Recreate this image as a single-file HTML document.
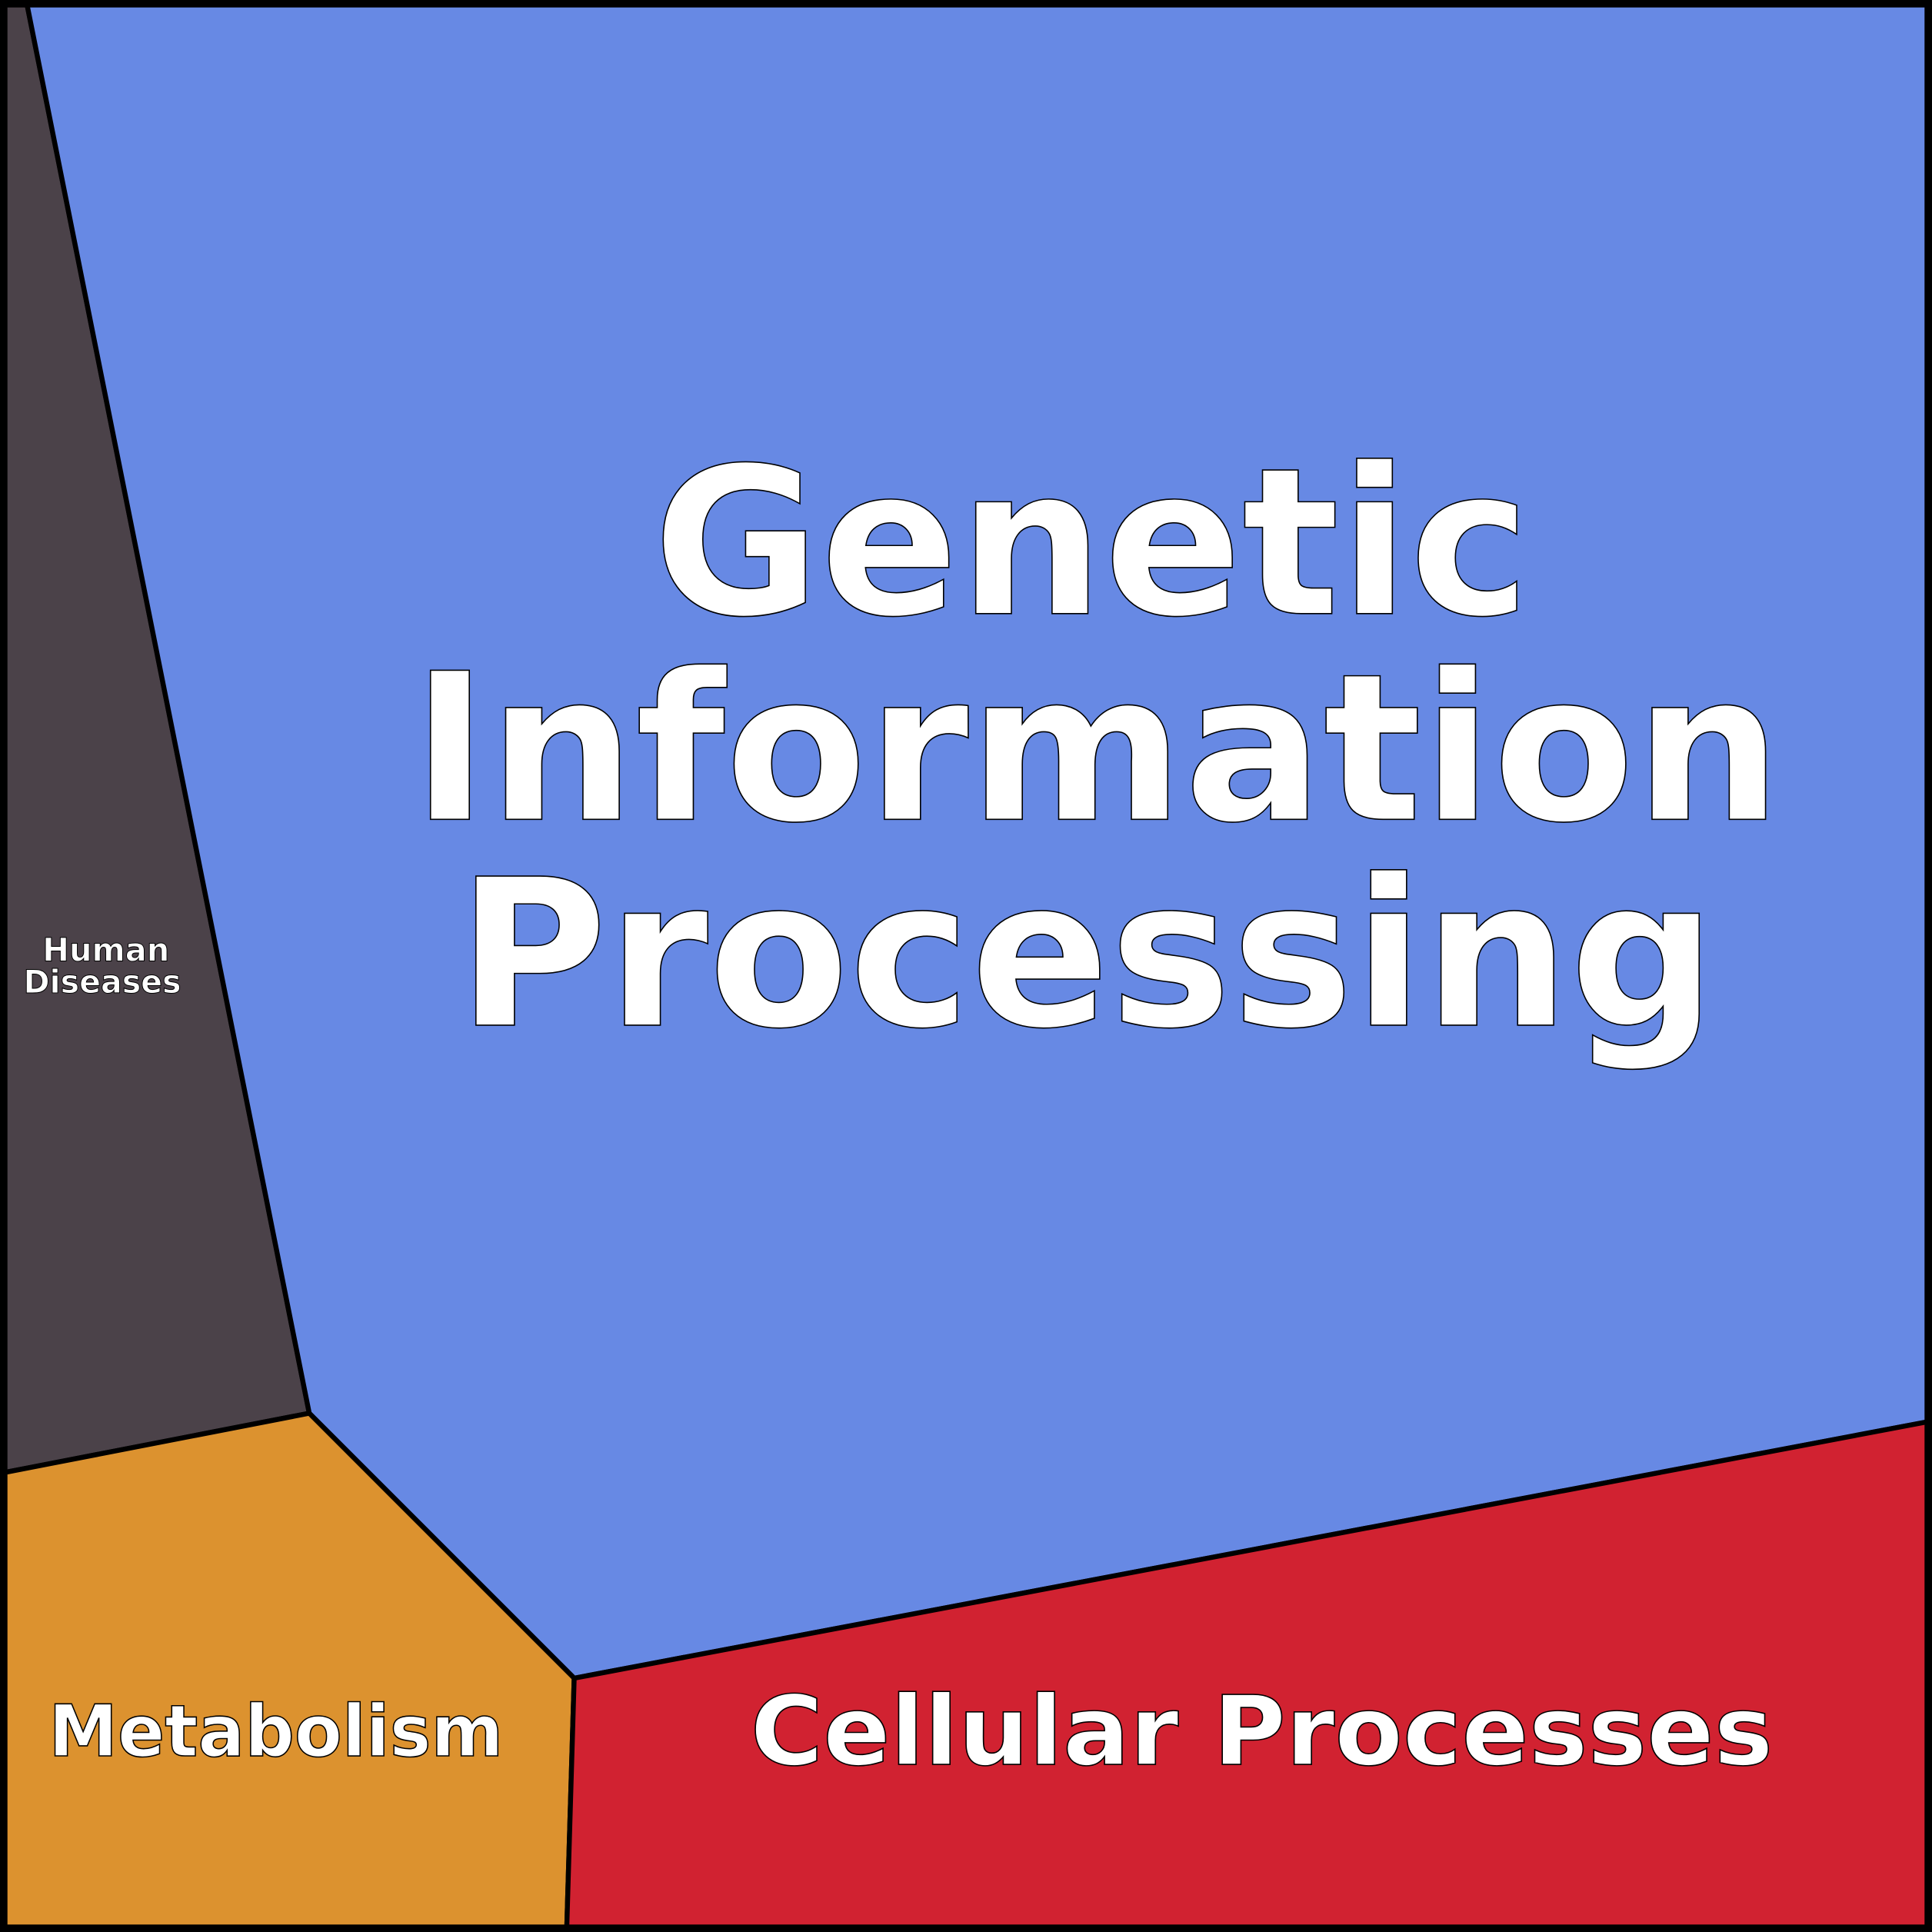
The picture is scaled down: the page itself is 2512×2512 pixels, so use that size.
<!DOCTYPE html>
<html><head><style>html,body{margin:0;padding:0;background:#fff}svg{display:block}</style></head>
<body>
<svg width="2512" height="2512" viewBox="0 0 1568 1568" xmlns="http://www.w3.org/2000/svg">
<g stroke="#000" stroke-width="4" stroke-linejoin="round">
<polygon points="4,4 22,4 251,1147 4,1195" fill="#4b4249"/>
<polygon points="22,4 1564,4 1564,1154 466,1362 251,1147" fill="#6789e4"/>
<polygon points="4,1195 251,1147 466,1362 460,1564 4,1564" fill="#dc922f"/>
<polygon points="466,1362 1564,1154 1564,1564 460,1564" fill="#d12231"/>
</g>
<rect x="3" y="3" width="1562" height="1562" fill="none" stroke="#000" stroke-width="6"/>
<g font-family="'DejaVu Sans','Liberation Sans',sans-serif" font-weight="bold" fill="#fff" stroke="#000" stroke-width="1" text-anchor="middle">
<text x="886" y="498" font-size="166" textLength="712" lengthAdjust="spacingAndGlyphs">Genetic</text>
<text x="890" y="665" font-size="166" textLength="1112" lengthAdjust="spacingAndGlyphs">Information</text>
<text x="882" y="832" font-size="166" textLength="1022" lengthAdjust="spacingAndGlyphs">Processing</text>
<text x="1024" y="1432" font-size="78" textLength="830" lengthAdjust="spacingAndGlyphs">Cellular Processes</text>
<text x="224" y="1425" font-size="58" textLength="369" lengthAdjust="spacingAndGlyphs">Metabolism</text>
<text x="86" y="780" font-size="26" stroke-width="0.6" textLength="103" lengthAdjust="spacingAndGlyphs">Human</text>
<text x="83" y="806" font-size="26" stroke-width="0.6" textLength="128" lengthAdjust="spacingAndGlyphs">Diseases</text>
</g>
</svg>
</body></html>
